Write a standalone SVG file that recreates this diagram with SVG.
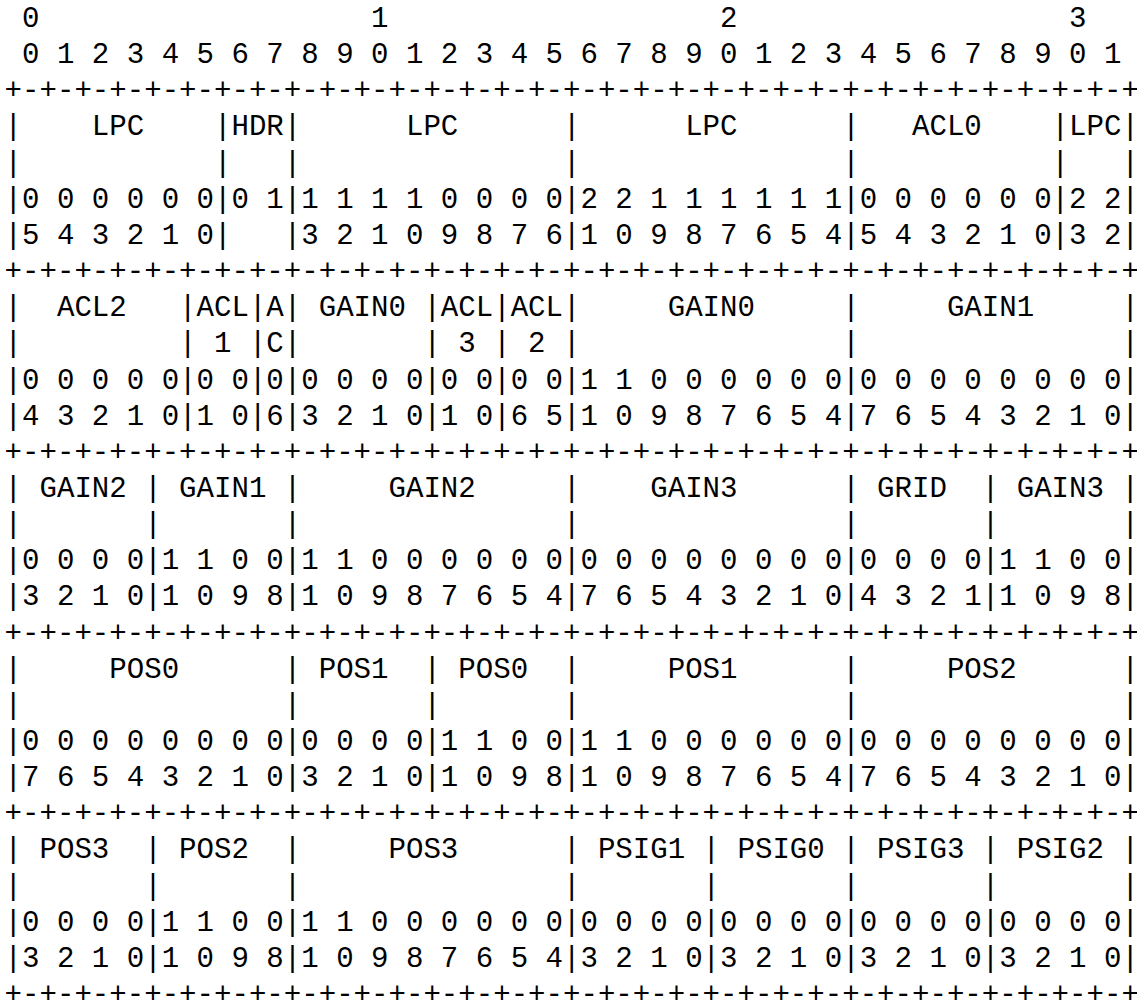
<svg xmlns="http://www.w3.org/2000/svg" width="1137" height="1002" viewBox="0 0 1137 1002">
<style>
text{font-family:"Liberation Mono","DejaVu Sans Mono",monospace;font-size:29.08px;fill:#000;white-space:pre}
</style>
<rect width="1137" height="1002" fill="#fff"/>
<g id="ruler">
<text x="4.6" y="27"> 0                   1                   2                   3</text>
<text x="4.6" y="63.15"> 0 1 2 3 4 5 6 7 8 9 0 1 2 3 4 5 6 7 8 9 0 1 2 3 4 5 6 7 8 9 0 1</text>
<text x="4.6" y="99.3">+-+-+-+-+-+-+-+-+-+-+-+-+-+-+-+-+-+-+-+-+-+-+-+-+-+-+-+-+-+-+-+-+</text>
</g>
<g id="word1">
<text x="4.6" y="135.45">|    LPC    |HDR|      LPC      |      LPC      |   ACL0    |LPC|</text>
<text x="4.6" y="171.6">|           |   |               |               |           |   |</text>
<text x="4.6" y="207.75">|0 0 0 0 0 0|0 1|1 1 1 1 0 0 0 0|2 2 1 1 1 1 1 1|0 0 0 0 0 0|2 2|</text>
<text x="4.6" y="243.9">|5 4 3 2 1 0|   |3 2 1 0 9 8 7 6|1 0 9 8 7 6 5 4|5 4 3 2 1 0|3 2|</text>
<text x="4.6" y="280.05">+-+-+-+-+-+-+-+-+-+-+-+-+-+-+-+-+-+-+-+-+-+-+-+-+-+-+-+-+-+-+-+-+</text>
</g>
<g id="word2">
<text x="4.6" y="316.2">|  ACL2   |ACL|A| GAIN0 |ACL|ACL|     GAIN0     |     GAIN1     |</text>
<text x="4.6" y="352.35">|         | 1 |C|       | 3 | 2 |               |               |</text>
<text x="4.6" y="388.5">|0 0 0 0 0|0 0|0|0 0 0 0|0 0|0 0|1 1 0 0 0 0 0 0|0 0 0 0 0 0 0 0|</text>
<text x="4.6" y="424.65">|4 3 2 1 0|1 0|6|3 2 1 0|1 0|6 5|1 0 9 8 7 6 5 4|7 6 5 4 3 2 1 0|</text>
<text x="4.6" y="460.8">+-+-+-+-+-+-+-+-+-+-+-+-+-+-+-+-+-+-+-+-+-+-+-+-+-+-+-+-+-+-+-+-+</text>
</g>
<g id="word3">
<text x="4.6" y="496.95">| GAIN2 | GAIN1 |     GAIN2     |    GAIN3      | GRID  | GAIN3 |</text>
<text x="4.6" y="533.1">|       |       |               |               |       |       |</text>
<text x="4.6" y="569.25">|0 0 0 0|1 1 0 0|1 1 0 0 0 0 0 0|0 0 0 0 0 0 0 0|0 0 0 0|1 1 0 0|</text>
<text x="4.6" y="605.4">|3 2 1 0|1 0 9 8|1 0 9 8 7 6 5 4|7 6 5 4 3 2 1 0|4 3 2 1|1 0 9 8|</text>
<text x="4.6" y="641.55">+-+-+-+-+-+-+-+-+-+-+-+-+-+-+-+-+-+-+-+-+-+-+-+-+-+-+-+-+-+-+-+-+</text>
</g>
<g id="word4">
<text x="4.6" y="677.7">|     POS0      | POS1  | POS0  |     POS1      |     POS2      |</text>
<text x="4.6" y="713.85">|               |       |       |               |               |</text>
<text x="4.6" y="750">|0 0 0 0 0 0 0 0|0 0 0 0|1 1 0 0|1 1 0 0 0 0 0 0|0 0 0 0 0 0 0 0|</text>
<text x="4.6" y="786.15">|7 6 5 4 3 2 1 0|3 2 1 0|1 0 9 8|1 0 9 8 7 6 5 4|7 6 5 4 3 2 1 0|</text>
<text x="4.6" y="822.3">+-+-+-+-+-+-+-+-+-+-+-+-+-+-+-+-+-+-+-+-+-+-+-+-+-+-+-+-+-+-+-+-+</text>
</g>
<g id="word5">
<text x="4.6" y="858.45">| POS3  | POS2  |     POS3      | PSIG1 | PSIG0 | PSIG3 | PSIG2 |</text>
<text x="4.6" y="894.6">|       |       |               |       |       |       |       |</text>
<text x="4.6" y="930.75">|0 0 0 0|1 1 0 0|1 1 0 0 0 0 0 0|0 0 0 0|0 0 0 0|0 0 0 0|0 0 0 0|</text>
<text x="4.6" y="966.9">|3 2 1 0|1 0 9 8|1 0 9 8 7 6 5 4|3 2 1 0|3 2 1 0|3 2 1 0|3 2 1 0|</text>
<text x="4.6" y="1003.05">+-+-+-+-+-+-+-+-+-+-+-+-+-+-+-+-+-+-+-+-+-+-+-+-+-+-+-+-+-+-+-+-+</text>
</g>
</svg>
